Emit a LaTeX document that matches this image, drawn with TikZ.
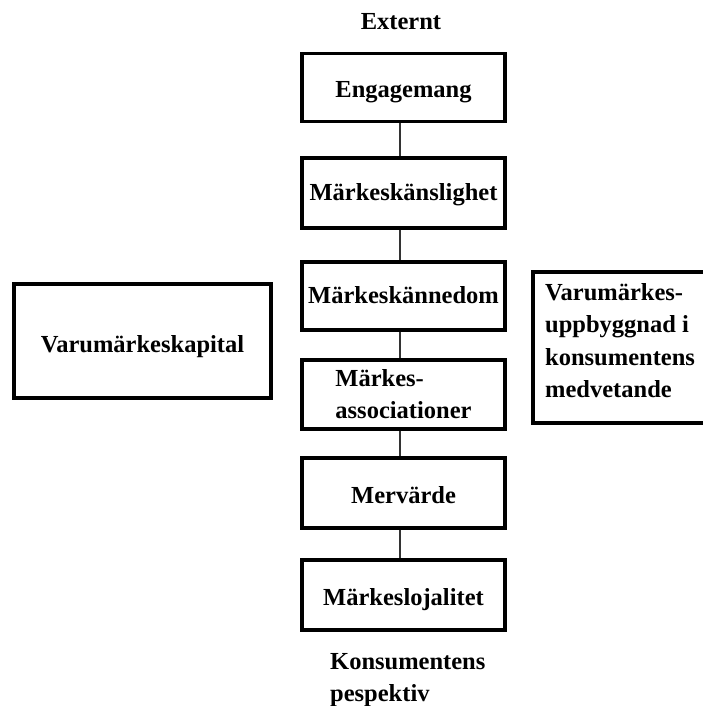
\documentclass[tikz,border=0pt]{standalone}
\usepackage{fontspec}
\setmainfont{Liberation Serif}
\begin{document}
\begin{tikzpicture}[x=1pt,y=-1pt,
  box/.style={draw=black,line width=3.1pt,fill=white,minimum width=203pt,minimum height=68pt,inner sep=0pt,align=left,font=\fontsize{24.5}{32}\selectfont\bfseries,text height=14pt,text depth=0pt},
  lbl/.style={inner sep=0pt,align=left,font=\fontsize{24.5}{32}\selectfont\bfseries},
  conn/.style={draw=black!80,line width=1.5pt}]
\clip (0,0) rectangle (703,706);
\fill[white] (0,0) rectangle (703,706);
\node[lbl] (ext) at (401,22) {Externt};
\node[box,text height=20pt] (eng) at (403.5,87.5) {Engagemang};
\node[box,minimum height=70pt,text height=15pt] (kans) at (403.5,193) {Märkeskänslighet};
\node[box,text height=15pt] (kann) at (403.5,296) {Märkeskännedom};
\node[box,minimum height=69pt,text height=,text depth=] (ass) at (403.5,394.5) {Märkes-\\associationer};
\node[box,minimum height=70pt,text height=21pt] (mer) at (403.5,493) {Mervärde};
\node[box,minimum height=70pt,text height=21pt] (loj) at (403.5,595) {Märkeslojalitet};
\node[lbl,anchor=west] (kon) at (330,680) {Konsumentens\\pespektiv};
\node[box,minimum width=257pt,minimum height=114pt,text height=22pt] (kap) at (142.5,341) {Varumärkeskapital};
\node[box,minimum width=180pt,minimum height=151pt] (rbox) at (623,347.5) {};
\node[lbl,anchor=north west,font=\fontsize{24.5}{32.5}\selectfont\bfseries] (rtext) at (545,283) {Varumärkes-\\uppbyggnad i\\konsumentens\\medvetande};
\draw[conn] ([xshift=-3.5pt]eng.south) -- ([xshift=-3.5pt]kans.north);
\draw[conn] ([xshift=-3.5pt]kans.south) -- ([xshift=-3.5pt]kann.north);
\draw[conn] ([xshift=-3.5pt]kann.south) -- ([xshift=-3.5pt]ass.north);
\draw[conn] ([xshift=-3.5pt]ass.south) -- ([xshift=-3.5pt]mer.north);
\draw[conn] ([xshift=-3.5pt]mer.south) -- ([xshift=-3.5pt]loj.north);
\end{tikzpicture}
\end{document}
